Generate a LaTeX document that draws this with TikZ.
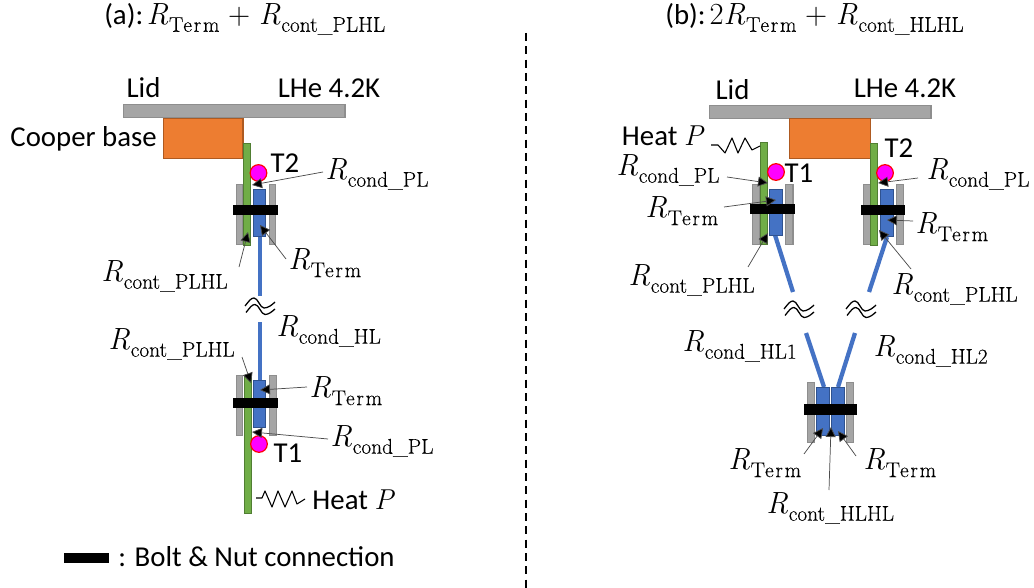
\documentclass[tikz,border=0pt]{standalone}
\usepackage{fontspec}
\newfontfamily\capfont{Carlito}
\newfontfamily\subfont[FakeBold=0.2]{Latin Modern Roman}
\usetikzlibrary{arrows.meta}
\definecolor{lidgrey}{HTML}{A5A5A5}
\definecolor{lidedge}{HTML}{8E8E8E}
\definecolor{copper}{HTML}{ED7D31}
\definecolor{copperedge}{HTML}{AE5A21}
\definecolor{plgreen}{HTML}{70AD47}
\definecolor{pledge}{HTML}{507E32}
\definecolor{hlblue}{HTML}{4472C4}
\definecolor{hledge}{HTML}{2F528F}
\definecolor{sensorfill}{RGB}{255,0,255}
\definecolor{sensoredge}{RGB}{255,0,0}
\newcommand{\Rsub}[1]{{\rmfamily\textit{R}\kern0.02em\raisebox{-0.24em}{\subfont\fontsize{16}{18}\selectfont #1}}}
\newcommand{\Rterm}{\Rsub{\addfontfeature{LetterSpace=8}Term}}
\tikzset{
  x=0.75pt,y=-0.75pt,
  plate/.style={draw=lidedge,fill=lidgrey,line width=0.9pt,anchor=north west,inner sep=0pt},
  base/.style={draw=copperedge,fill=copper,line width=0.9pt,anchor=north west,inner sep=0pt},
  plstrip/.style={draw=pledge,fill=plgreen,line width=0.7pt,anchor=north west,inner sep=0pt},
  term/.style={draw=hledge,fill=hlblue,line width=0.7pt,anchor=north west,inner sep=0pt},
  wire/.style={draw=hlblue,line width=3.2pt},
  bolt/.style={fill=black,draw=none,anchor=north west,inner sep=0pt},
  sensor/.style={circle,draw=sensoredge,fill=sensorfill,line width=0.9pt,minimum size=12.5pt,inner sep=0pt},
  lead/.style={draw=black!70,line width=0.55pt,-{Triangle[length=7.5pt,width=7.5pt,fill=black]}},
  txt/.style={inner sep=0pt,font=\capfont\fontsize{21.6}{24}\selectfont,text=black},
  mth/.style={inner sep=0pt,anchor=west,font=\rmfamily\fontsize{23}{25}\selectfont,text=black,xshift=-1.5pt,yshift=1.5pt},
  gap/.style={draw=black,line width=0.95pt},
  zig/.style={draw=black,line width=0.8pt,line join=round},
}
\newcommand{\waveat}[1]{%
  \begin{scope}[shift={(#1)}]
  \draw[gap] (-15,0) .. controls (-11,-5) and (-9,-8) .. (-6,-8) .. controls (-2,-8) and (0,2) .. (4,2) .. controls (8,2) and (12,-1) .. (15,-4);
  \draw[gap] (-14,6.5) .. controls (-10,1.5) and (-8,-1.5) .. (-5,-1.5) .. controls (-1,-1.5) and (1,8.5) .. (5,8.5) .. controls (9,8.5) and (12,5.5) .. (15,3);
  \end{scope}
}
\begin{document}
\begin{tikzpicture}
\useasboundingbox (0,0) rectangle (1034,588);
% ---------- panel (a)
\node[mth] (atitle) at (106,21) {{\capfont\fontsize{21.6}{24}\selectfont (a):}\kern2.5pt\Rterm\kern6.5pt+\kern6.5pt\Rsub{cont\_PLHL}};
\node[plate,minimum width=166pt,minimum height=9.5pt] (alid) at (123,104) {};
\node[base,minimum width=59.5pt,minimum height=30pt] (abase) at (163,118) {};
\node[txt] (alidt) at (143.5,88) {Lid};
\node[txt] (ahe) at (329,88) {LHe 4.2K};
\node[txt,anchor=east] (acu) at (157,139) {Cooper base};
% upper joint
\node[plate,minimum width=4.5pt,minimum height=45pt] (aupl) at (236,184) {};
\node[plate,minimum width=5pt,minimum height=45pt] (aupr) at (268.5,184) {};
\node[plstrip,minimum width=5.5pt,minimum height=76.5pt] (agreenu) at (243,143) {};
\coordinate (aw1a) at (260,236); \coordinate (aw1b) at (260,296);
\draw[wire] (aw1a) -- (aw1b);
\node[term,minimum width=9pt,minimum height=35pt] (atermu) at (253,189) {};
\node[bolt,minimum width=33.5pt,minimum height=7.5pt] (aboltu) at (233,205) {};
\node[sensor] (at2) at (258.5,173) {};
\node[txt] (at2t) at (285,163) {T2};
% lower joint
\node[plate,minimum width=4.5pt,minimum height=45pt] (alol) at (236,375) {};
\node[plate,minimum width=5pt,minimum height=45pt] (alor) at (269,375) {};
\node[plstrip,minimum width=5.5pt,minimum height=103.5pt] (agreenl) at (243.5,375) {};
\coordinate (aw2a) at (260,322); \coordinate (aw2b) at (260,381);
\draw[wire] (aw2a) -- (aw2b);
\node[term,minimum width=9pt,minimum height=35pt] (aterml) at (253,380) {};
\node[bolt,minimum width=33.5pt,minimum height=7.5pt] (aboltl) at (233,398) {};
\node[sensor] (at1) at (259,444) {};
\node[txt] (at1t) at (288,453) {T1};
\waveat{260,306}
% heater
\coordinate (ah0) at (256,498);
\draw[zig] (ah0) -- (262,498) -- (265,491) -- (272,507) -- (278,491) -- (285,507) -- (292,491) -- (297,504) -- (305,499);
\node[txt] (aheat) at (353,500) {Heat {\rmfamily\itshape P}};
% labels a
\node[mth] (arc1) at (327,176) {\Rsub{cond\_PL}};
\node[mth] (art1) at (290,265) {\Rterm};
\node[mth] (arp1) at (103,278) {\Rsub{cont\_PLHL}};
\node[mth] (arhl) at (278,333) {\Rsub{cond\_HL}};
\node[mth] (arp2) at (110,346) {\Rsub{cont\_PLHL}};
\node[mth] (art2) at (311,393) {\Rterm};
\node[mth] (arc2) at (332,443) {\Rsub{cond\_PL}};
% leaders a
\coordinate (l1s) at (323,172); \coordinate (l1e) at (252,185);
\coordinate (l2s) at (239,267); \coordinate (l2e) at (248,232);
\coordinate (l3s) at (286,259); \coordinate (l3e) at (260,225);
\coordinate (l4s) at (242,357); \coordinate (l4e) at (251,383);
\coordinate (l5s) at (307,387); \coordinate (l5e) at (260,390);
\coordinate (l6s) at (328,439); \coordinate (l6e) at (252,432);
\foreach \n in {1,...,6} {\draw[lead] (l\n s) -- (l\n e);}
% legend
\node[bolt,minimum width=33.5pt,minimum height=7.5pt] (legbar) at (64,553) {};
\node[txt,anchor=west] (legt) at (118,557) {: Bolt \& Nut connection};
% divider
\coordinate (div0) at (526,33); \coordinate (div1) at (526,588);
\draw[line width=0.8pt,dash pattern=on 6pt off 4pt] (div0) -- (div1);
% ---------- panel (b)
\node[mth] (btitle) at (667,21) {{\capfont\fontsize{21.6}{24}\selectfont (b):}\kern3pt 2\Rterm\kern6.5pt+\kern6.5pt\Rsub{cont\_HLHL}};
\node[plate,minimum width=166pt,minimum height=9.5pt] (blid) at (709,105) {};
\node[base,minimum width=60.5pt,minimum height=30pt] (bbase) at (789,118) {};
\node[txt] (blidt) at (732.5,90) {Lid};
\node[txt] (bhe) at (905,88) {LHe 4.2K};
\node[txt] (bheat) at (662.5,136) {Heat {\rmfamily\itshape P}};
% left joint
\node[plate,minimum width=5.5pt,minimum height=45pt] (bll) at (752,184) {};
\node[plate,minimum width=5.5pt,minimum height=45pt] (blr) at (785,184) {};
\node[plstrip,minimum width=5pt,minimum height=76.5pt] (bgl) at (760,142) {};
\coordinate (bw1a) at (775,235); \coordinate (bw1b) at (793,292);
\draw[wire] (bw1a) -- (bw1b);
\node[term,minimum width=9.5pt,minimum height=34.5pt] (btl) at (769,189) {};
\node[bolt,minimum width=33.5pt,minimum height=7.5pt] (bbl) at (750,204) {};
\node[sensor] (bt1) at (776,172) {};
\node[txt] (bt1t) at (799,173) {T1};
% right joint
\node[plate,minimum width=5pt,minimum height=45pt] (brl) at (863,184) {};
\node[plate,minimum width=5pt,minimum height=45pt] (brr) at (896,184) {};
\node[plstrip,minimum width=5.5pt,minimum height=76.5pt] (bgr) at (870,143) {};
\coordinate (bw2a) at (887,237); \coordinate (bw2b) at (869,292);
\draw[wire] (bw2a) -- (bw2b);
\node[term,minimum width=9.5pt,minimum height=35.5pt] (btr) at (880,189) {};
\node[bolt,minimum width=33pt,minimum height=7.5pt] (bbr) at (861,205) {};
\node[sensor] (bt2) at (885,173) {};
\node[txt] (bt2t) at (899,148) {T2};
% bottom joint
\coordinate (bw3a) at (806,333); \coordinate (bw3b) at (824,387);
\coordinate (bw4a) at (855,333); \coordinate (bw4b) at (838,387);
\draw[wire] (bw3a) -- (bw3b);
\draw[wire] (bw4a) -- (bw4b);
\node[plate,minimum width=5pt,minimum height=45pt] (bbl1) at (807,382) {};
\node[plate,minimum width=5pt,minimum height=45pt] (bbl2) at (846,382) {};
\node[term,minimum width=9.5pt,minimum height=36pt] (bbt1) at (816,387) {};
\node[term,minimum width=9.5pt,minimum height=36pt] (bbt2) at (831,387) {};
\node[bolt,minimum width=39.5pt,minimum height=8pt] (bbb) at (804,404) {};
\waveat{799,309}
\waveat{861,309}
% heater b
\coordinate (bh0) at (711,145);
\draw[zig] (bh0) -- (718,145) -- (725,153) -- (732,138) -- (738,153) -- (745,138) -- (752,150) -- (760,146);
% labels b
\node[mth] (brc1) at (618,172) {\Rsub{cond\_PL}};
\node[mth] (brt1) at (647,213) {\Rterm};
\node[mth] (brp1) at (630,282) {\Rsub{cont\_PLHL}};
\node[mth] (brc2) at (928,176) {\Rsub{cond\_PL}};
\node[mth] (brt2) at (917,229) {\Rterm};
\node[mth] (brp2) at (893,291) {\Rsub{cont\_PLHL}};
\node[mth] (brh1) at (684,348) {\Rsub{cond\_HL1}};
\node[mth] (brh2) at (875,353) {\Rsub{cond\_HL2}};
\node[mth] (brt3) at (730,465) {\Rterm};
\node[mth] (brt4) at (865,465) {\Rterm};
\node[mth] (brhh) at (768,510) {\Rsub{cont\_HLHL}};
% leaders b
\coordinate (m1s) at (727,177); \coordinate (m1e) at (768,183);
\coordinate (m2s) at (724,207); \coordinate (m2e) at (776,200);
\coordinate (m3s) at (748,267); \coordinate (m3e) at (768,233);
\coordinate (m4s) at (918,178); \coordinate (m4e) at (878,183);
\coordinate (m5s) at (913,221); \coordinate (m5e) at (887,220);
\coordinate (m6s) at (911,269); \coordinate (m6e) at (879,230);
\coordinate (m7s) at (804,454); \coordinate (m7e) at (823,428);
\coordinate (m8s) at (829,490); \coordinate (m8e) at (831,427);
\coordinate (m9s) at (856,456); \coordinate (m9e) at (838,431);
\foreach \n in {1,...,9} {\draw[lead] (m\n s) -- (m\n e);}
\end{tikzpicture}
\end{document}
